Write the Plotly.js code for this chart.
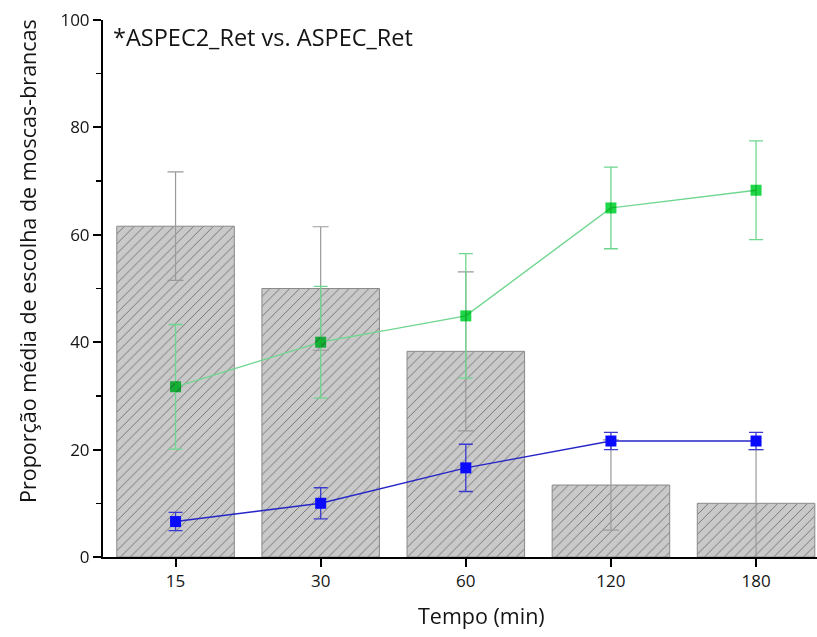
<!DOCTYPE html>
<html>
<head>
<meta charset="utf-8">
<script src="https://cdn.plot.ly/plotly-3.0.1.min.js"></script>
<style>html,body{margin:0;padding:0;background:#fff;}#chart{width:817px;height:637px;}</style>
</head>
<body>
<div id="chart"></div>
<script>
const categories = ['15', '30', '60', '120', '180'];
const barValues = [61.6, 50.0, 38.3, 13.4, 10.0];
const barErrors = [10.1, 11.5, 14.8, 8.4, 10.0];
const greenValues = [31.7, 40.0, 44.9, 65.0, 68.3];
const greenErrors = [11.6, 10.4, 11.6, 7.6, 9.2];
const blueValues = [6.6, 10.0, 16.6, 21.6, 21.6];
const blueErrors = [1.7, 2.9, 4.4, 1.6, 1.6];
const titleText = '*ASPEC2_Ret vs. ASPEC_Ret';
const yTitle = 'Proporção média de escolha de moscas-brancas';
const xTitle = 'Tempo (min)';

const FONT = '"Open Sans", Lato, sans-serif';
const TXT = '#141414';
const L = 103, R = 817, T = 20, B = 557;
const PW = R - L, PH = B - T;

const traces = [
  {
    type: 'bar', x: categories, y: barValues, width: 0.81,
    marker: {
      color: '#c9c9c9',
      line: {color: '#8a8a8a', width: 1},
      pattern: {shape: '/', fgcolor: '#767676', bgcolor: '#c9c9c9', size: 7, solidity: 0.14}
    },
    error_y: {type: 'data', array: barErrors, visible: true, color: '#9a9a9a', thickness: 1.2, width: 8},
    showlegend: false, hoverinfo: 'skip'
  },
  {
    type: 'scatter', mode: 'lines+markers', x: categories, y: greenValues,
    line: {color: '#6fd68f', width: 1.3},
    marker: {symbol: 'square', size: 11, color: '#1fd84a'},
    error_y: {type: 'data', array: greenErrors, visible: true, color: '#6fd68f', thickness: 1.3, width: 7},
    showlegend: false
  },
  {
    type: 'scatter', mode: 'lines+markers', x: categories, y: blueValues,
    line: {color: '#2626c8', width: 1.5},
    marker: {symbol: 'square', size: 11, color: '#0a0aff'},
    error_y: {type: 'data', array: blueErrors, visible: true, color: '#3a3ad0', thickness: 1.3, width: 7},
    showlegend: false
  }
];

const layout = {
  width: 817, height: 637,
  margin: {l: L, r: 817 - R, t: T, b: 637 - B},
  paper_bgcolor: '#ffffff', plot_bgcolor: '#ffffff',
  font: {family: FONT, size: 17, color: TXT},
  title: {
    text: titleText, font: {family: FONT, size: 23.5, color: TXT},
    x: 113 / 817, xref: 'container', xanchor: 'left',
    y: 1 - 38 / 637, yref: 'container', yanchor: 'middle'
  },
  xaxis: {
    type: 'category', range: [-0.5, 4.42],
    showline: true, linecolor: '#000', linewidth: 2,
    ticks: 'outside', ticklen: 8, tickwidth: 2, tickcolor: '#000',
    showgrid: false, zeroline: false,
    tickfont: {family: FONT, size: 17, color: TXT}
  },
  yaxis: {
    range: [0, 100], dtick: 20,
    showline: true, linecolor: '#000', linewidth: 2,
    ticks: 'outside', ticklen: 8, tickwidth: 2, tickcolor: '#000',
    minor: {dtick: 10, ticks: 'outside', ticklen: 5, tickwidth: 1.5, tickcolor: '#000', showgrid: false},
    showgrid: false, zeroline: false,
    tickfont: {family: FONT, size: 17, color: TXT}
  },
  annotations: [
    {
      text: yTitle, textangle: -90, showarrow: false,
      xref: 'paper', yref: 'paper', x: (27 - L) / PW, y: (B - 261) / PH,
      xanchor: 'center', yanchor: 'middle',
      font: {family: FONT, size: 21.5, color: TXT}
    },
    {
      text: xTitle, showarrow: false,
      xref: 'paper', yref: 'paper', x: (481 - L) / PW, y: (B - 615) / PH,
      xanchor: 'center', yanchor: 'middle',
      font: {family: FONT, size: 21.5, color: TXT}
    }
  ]
};

Plotly.newPlot('chart', traces, layout, {displayModeBar: false, staticPlot: true}).then(function (gd) {
  const scatterTraces = gd.querySelectorAll('.scatterlayer .trace');
  if (scatterTraces.length) {
    const pts = scatterTraces[0].querySelector('.points');
    if (pts) pts.style.mixBlendMode = 'multiply';
  }
});
</script>
</body>
</html>
